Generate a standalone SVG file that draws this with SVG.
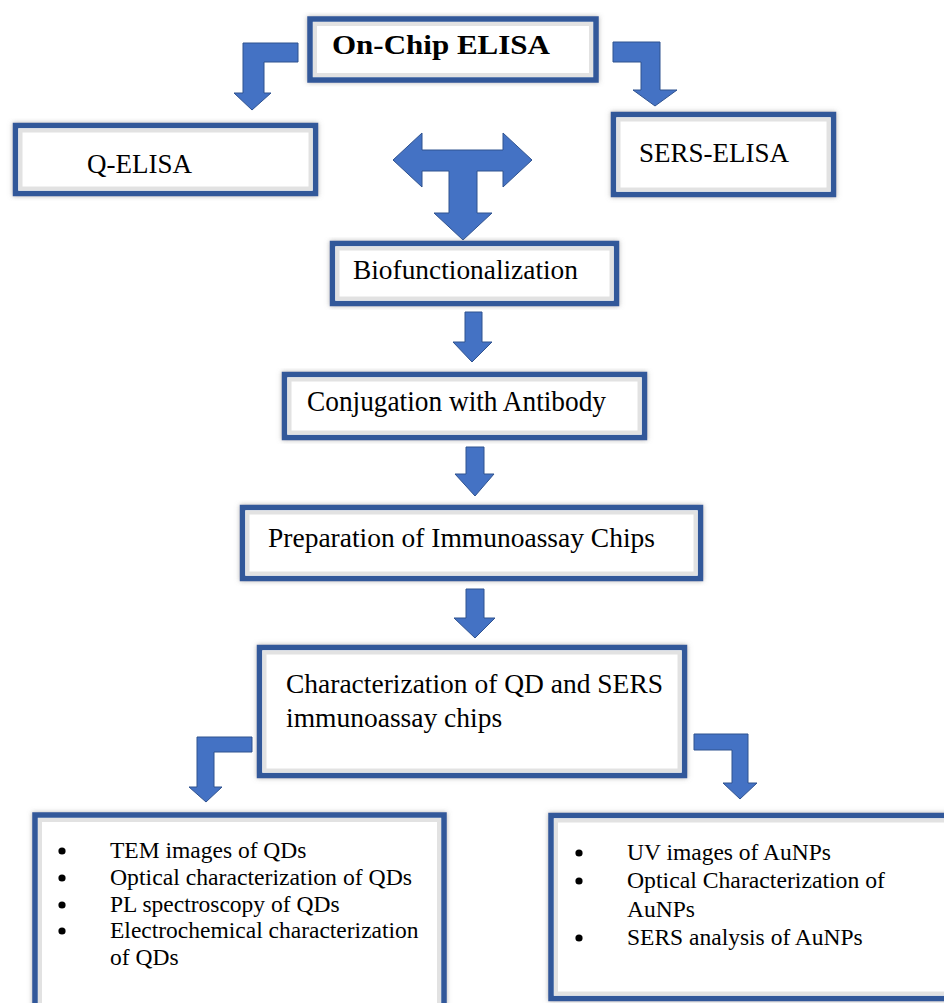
<svg xmlns="http://www.w3.org/2000/svg" width="944" height="1003" viewBox="0 0 944 1003">
<style>
.box{fill:#ffffff;stroke:#30589A;stroke-width:5.5}
.inner{fill:none;stroke:#e2e2e2;stroke-width:4}
.arr{fill:#4472C4;stroke:#2F528F;stroke-width:1}
.t{font-family:"Liberation Serif","Times New Roman",serif;fill:#000}
.b{font-weight:bold}
</style>
<defs>
<filter id="sh" x="-10%" y="-10%" width="120%" height="120%">
<feDropShadow dx="0" dy="0" stdDeviation="2.5" flood-color="#7a7a7a" flood-opacity="0.55"/>
</filter>
</defs>
<rect width="944" height="1003" fill="#ffffff"/>

<g id="connectors">
<polygon class="arr" points="298,43 243,43 243,93 234,93 252,110 271,93 264,93 264,62 298,62"/>
<polygon class="arr" points="613,42 660,42 660,90 677,90 655,106 633,90 641,90 641,62 613,62"/>
<polygon class="arr" points="393,160 422,133 422,150 503,150 503,133 532,160 503,187 503,171 477,171 477,213 492,213 463,240 434,213 449,213 449,171 422,171 422,187"/>
<polygon class="arr" points="465,312 482,312 482,342 492,342 472,362 453,342 465,342"/>
<polygon class="arr" points="466,447 484,447 484,474 494,474 475,496 455,474 466,474"/>
<polygon class="arr" points="466,589 484,589 484,618 495,618 475,638 454,618 466,618"/>
<polygon class="arr" points="252,737 197,737 197,787 189,787 206,802 222,787 214,787 214,752 252,752"/>
<polygon class="arr" points="694,734 748,734 748,783 757,783 740,799 723,783 732,783 732,750 694,750"/>
</g>

<g id="on-chip-elisa">
<rect class="box" x="310" y="19" width="286" height="61" filter="url(#sh)"/>
<rect class="inner" x="315" y="24" width="276" height="51"/>
<text class="t b" x="332" y="54" font-size="27" textLength="218" lengthAdjust="spacingAndGlyphs">On-Chip ELISA</text>
</g>

<g id="q-elisa">
<rect class="box" x="15.5" y="125.5" width="300" height="68" filter="url(#sh)"/>
<rect class="inner" x="20.5" y="130.5" width="290" height="58"/>
<text class="t" x="87" y="173" font-size="27" textLength="105" lengthAdjust="spacingAndGlyphs">Q-ELISA</text>
</g>

<g id="sers-elisa">
<rect class="box" x="613.5" y="114.5" width="220" height="80" filter="url(#sh)"/>
<rect class="inner" x="618.5" y="119.5" width="210" height="70"/>
<text class="t" x="639" y="162" font-size="27" textLength="150" lengthAdjust="spacingAndGlyphs">SERS-ELISA</text>
</g>

<g id="biofunctionalization">
<rect class="box" x="332.5" y="243.5" width="284" height="60" filter="url(#sh)"/>
<rect class="inner" x="337.5" y="248.5" width="274" height="50"/>
<text class="t" x="353" y="279" font-size="27" textLength="225" lengthAdjust="spacingAndGlyphs">Biofunctionalization</text>
</g>

<g id="conjugation">
<rect class="box" x="284.5" y="374.5" width="360" height="63" filter="url(#sh)"/>
<rect class="inner" x="289.5" y="379.5" width="350" height="53"/>
<text class="t" x="307" y="411" font-size="29" textLength="299" lengthAdjust="spacingAndGlyphs">Conjugation with Antibody</text>
</g>

<g id="preparation">
<rect class="box" x="242.5" y="507.5" width="458" height="71" filter="url(#sh)"/>
<rect class="inner" x="247.5" y="512.5" width="448" height="61"/>
<text class="t" x="268" y="547" font-size="27.5" textLength="387" lengthAdjust="spacingAndGlyphs">Preparation of Immunoassay Chips</text>
</g>

<g id="characterization">
<rect class="box" x="259.5" y="647.5" width="425" height="128" filter="url(#sh)"/>
<rect class="inner" x="264.5" y="652.5" width="415" height="118"/>
<text class="t" x="286" y="693" font-size="27.5" textLength="377" lengthAdjust="spacingAndGlyphs">Characterization of QD and SERS</text>
<text class="t" x="286" y="727" font-size="27.5">immunoassay chips</text>
</g>

<g id="qd-list">
<rect class="box" x="35" y="815" width="409" height="210" filter="url(#sh)"/>
<rect class="inner" x="40" y="820" width="399" height="200"/>
<g class="t" font-size="23.5">
<circle cx="62" cy="851" r="3.6"/>
<text x="110" y="858">TEM images of QDs</text>
<circle cx="62" cy="878" r="3.6"/>
<text x="110" y="885" textLength="302" lengthAdjust="spacingAndGlyphs">Optical characterization of QDs</text>
<circle cx="62" cy="905" r="3.6"/>
<text x="110" y="912">PL spectroscopy of QDs</text>
<circle cx="62" cy="931" r="3.6"/>
<text x="110" y="938">Electrochemical characterization</text>
<text x="110" y="965">of QDs</text>
</g>
</g>

<g id="aunp-list">
<rect class="box" x="551" y="815.5" width="420" height="183" filter="url(#sh)"/>
<rect class="inner" x="556" y="820.5" width="410" height="173"/>
<g class="t" font-size="23.5">
<circle cx="579" cy="853" r="3.6"/>
<text x="627" y="860">UV images of AuNPs</text>
<circle cx="579" cy="881" r="3.6"/>
<text x="627" y="888" textLength="258" lengthAdjust="spacingAndGlyphs">Optical Characterization of</text>
<text x="627" y="917">AuNPs</text>
<circle cx="579" cy="938" r="3.6"/>
<text x="627" y="945">SERS analysis of AuNPs</text>
</g>
</g>
</svg>
